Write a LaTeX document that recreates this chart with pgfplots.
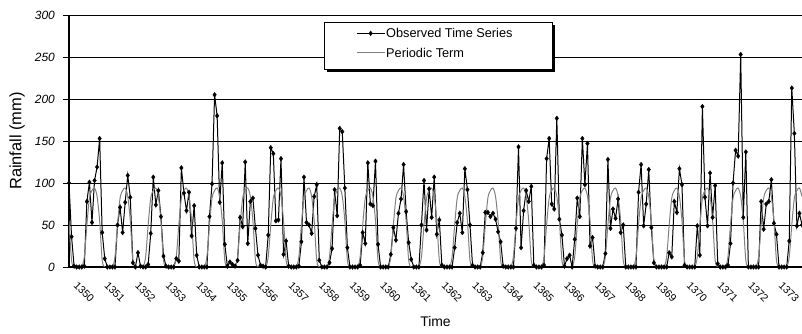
\documentclass[border=0pt]{standalone}
\usepackage{fontspec}
\setmainfont{Liberation Sans}
\usepackage{pgfplots}
\pgfplotsset{compat=1.18}
\usepackage{pgfplotstable}
\definecolor{pgray}{RGB}{128,128,128}
\pgfplotsset{
  obs legend/.style={legend image code/.code={\draw[mark repeat=2,mark phase=2,##1] plot coordinates {(0bp,0bp) (14bp,0bp) (28bp,0bp)};}},
  per legend/.style={legend image code/.code={\draw[##1] plot coordinates {(0bp,0bp) (28bp,0bp)};}},
}

% one line per year (1350 ... 1373), 12 months each: observed, periodic
\pgfplotstableread[row sep=\\]{
obs per\\
100 55\\ 36 8\\ 1 0\\ 0 0\\ 0 0\\ 0 0\\ 1 12\\ 78 50\\ 101 82\\ 53 91\\ 103 94\\ 119 84\\
153 55\\ 41 8\\ 10 0\\ 0 0\\ 0 0\\ 0 0\\ 0 12\\ 50 50\\ 71 82\\ 41 91\\ 77 94\\ 109 84\\
83 55\\ 5 8\\ 0 0\\ 17 0\\ 1 0\\ 0 0\\ 0 12\\ 3 50\\ 40 82\\ 107 91\\ 74 94\\ 91 84\\
60 55\\ 13 8\\ 1 0\\ 0 0\\ 0 0\\ 0 0\\ 10 12\\ 7 50\\ 118 82\\ 88 91\\ 67 94\\ 89 84\\
37 55\\ 73 8\\ 14 0\\ 0 0\\ 0 0\\ 0 0\\ 0 12\\ 60 50\\ 99 82\\ 205 91\\ 180 94\\ 77 84\\
124 55\\ 27 8\\ 1 0\\ 6 0\\ 3 0\\ 1 0\\ 8 12\\ 59 50\\ 48 82\\ 125 91\\ 28 94\\ 78 84\\
82 55\\ 46 8\\ 14 0\\ 2 0\\ 1 0\\ 0 0\\ 38 12\\ 142 50\\ 135 82\\ 55 91\\ 56 94\\ 129 84\\
15 55\\ 31 8\\ 1 0\\ 0 0\\ 0 0\\ 0 0\\ 1 12\\ 30 50\\ 107 82\\ 53 91\\ 50 94\\ 40 84\\
84 55\\ 98 8\\ 8 0\\ 0 0\\ 0 0\\ 0 0\\ 5 12\\ 22 50\\ 92 82\\ 61 91\\ 165 94\\ 161 84\\
94 55\\ 23 8\\ 0 0\\ 0 0\\ 0 0\\ 0 0\\ 2 12\\ 41 50\\ 28 82\\ 124 91\\ 75 94\\ 73 84\\
126 55\\ 27 8\\ 0 0\\ 0 0\\ 0 0\\ 0 0\\ 15 12\\ 47 50\\ 32 82\\ 64 91\\ 81 94\\ 122 84\\
66 55\\ 29 8\\ 9 0\\ 0 0\\ 0 0\\ 0 0\\ 50 12\\ 103 50\\ 44 82\\ 93 91\\ 59 94\\ 107 84\\
39 55\\ 56 8\\ 2 0\\ 0 0\\ 0 0\\ 0 0\\ 0 12\\ 23 50\\ 53 82\\ 64 91\\ 41 94\\ 117 84\\
92 55\\ 50 8\\ 2 0\\ 0 0\\ 0 0\\ 0 0\\ 17 12\\ 65 50\\ 65 82\\ 60 91\\ 64 94\\ 57 84\\
42 55\\ 30 8\\ 1 0\\ 0 0\\ 0 0\\ 0 0\\ 0 12\\ 46 50\\ 143 82\\ 23 91\\ 67 94\\ 91 84\\
78 55\\ 96 8\\ 2 0\\ 0 0\\ 0 0\\ 0 0\\ 2 12\\ 129 50\\ 153 82\\ 75 91\\ 69 94\\ 177 84\\
57 55\\ 38 8\\ 1 0\\ 10 0\\ 14 0\\ 0 0\\ 33 12\\ 82 50\\ 60 82\\ 153 91\\ 98 94\\ 147 84\\
25 55\\ 35 8\\ 1 0\\ 0 0\\ 0 0\\ 0 0\\ 16 12\\ 128 50\\ 46 82\\ 69 91\\ 58 94\\ 81 84\\
41 55\\ 50 8\\ 0 0\\ 0 0\\ 0 0\\ 0 0\\ 0 12\\ 89 50\\ 122 82\\ 49 91\\ 75 94\\ 116 84\\
47 55\\ 5 8\\ 0 0\\ 0 0\\ 0 0\\ 0 0\\ 0 12\\ 17 50\\ 12 82\\ 78 91\\ 65 94\\ 117 84\\
98 55\\ 2 8\\ 0 0\\ 0 0\\ 0 0\\ 0 0\\ 49 12\\ 14 50\\ 191 82\\ 83 91\\ 49 94\\ 112 84\\
59 55\\ 97 8\\ 4 0\\ 0 0\\ 0 0\\ 0 0\\ 2 12\\ 28 50\\ 100 82\\ 139 91\\ 132 94\\ 253 84\\
59 55\\ 137 8\\ 0 0\\ 0 0\\ 0 0\\ 0 0\\ 0 12\\ 78 50\\ 45 82\\ 75 91\\ 78 94\\ 104 84\\
52 55\\ 39 8\\ 0 0\\ 0 0\\ 0 0\\ 0 0\\ 31 12\\ 213 50\\ 159 82\\ 49 91\\ 64 94\\ 50 84\\
}\rain

\begin{document}
\begin{tikzpicture}
\path[use as bounding box] (0,0) rectangle (802bp,334bp);
\begin{axis}[
  at={(69bp,67bp)}, anchor=south west,
  scale only axis, width=733bp, height=252bp,
  xmin=0, xmax=287, ymin=0, ymax=300,
  axis x line=bottom, axis y line=left,
  axis line style={line width=2bp, -},
  /pgf/number format/assume math mode=true,
  ytick={0,50,...,300},
  xtick={3.7,15.7,...,280},
  xticklabels={1350,1351,1352,1353,1354,1355,1356,1357,1358,1359,1360,1361,1362,1363,1364,1365,1366,1367,1368,1369,1370,1371,1372,1373},
  tick align=outside,
  major tick length=6bp,
  xtick style={draw=none},
  ytick style={black, line width=0.8bp},
  ymajorgrids,
  grid style={black, line width=0.8bp},
  yticklabel style={font=\fontsize{12}{14}\selectfont\itshape, inner sep=0pt, xshift=-8bp},
  xticklabel style={font=\fontsize{10.6}{12}\selectfont, inner sep=0pt, rotate=-45, anchor=north west},
  xticklabel shift=8bp,
  every axis y label/.style={at={(rel axis cs:0,0.5)}, xshift=-52bp, rotate=90, anchor=center, font=\fontsize{16.5}{18}\selectfont},
  every axis x label/.style={at={(rel axis cs:0.5,0)}, yshift=-55bp, anchor=center, font=\fontsize{14}{16}\selectfont},
  ylabel={Rainfall (mm)},
  xlabel={Time},
  legend style={at={(rel axis cs:0.3915,0.889)}, anchor=west, draw=none, fill=none,
    font=\fontsize{12.8}{15}\selectfont, inner sep=0pt, row sep=8bp,
    nodes={inner sep=1bp, text depth=0pt}},
  legend cell align=left,
]
% legend frame with its shadow
\fill[black] ([xshift=3bp,yshift=-3bp]rel axis cs:0.3479,0.9722) rectangle ([xshift=3bp,yshift=-3bp]rel axis cs:0.659,0.7857);
\filldraw[fill=white, draw=black, line width=0.8bp] (rel axis cs:0.3479,0.9722) rectangle (rel axis cs:0.659,0.7857);
\addplot[black, line width=1bp, mark=diamond*, mark size=2.4bp, mark options={fill=black, line width=0.3bp}, obs legend]
  table[x expr=\coordindex, y=obs] {\rain};
\addlegendentry{Observed Time Series}
\addplot[pgray, line width=1bp, smooth, tension=0.5, no marks, per legend]
  table[x expr=\coordindex, y=per] {\rain};
\addlegendentry{Periodic Term}
\end{axis}
\end{tikzpicture}
\end{document}
